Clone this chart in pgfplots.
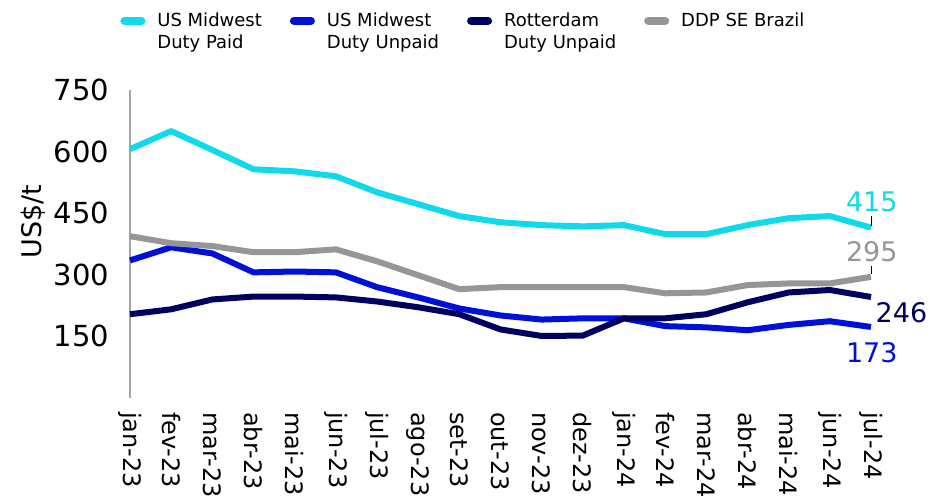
\documentclass[border=0pt]{standalone}
\usepackage{pgfplots}
\pgfplotsset{compat=1.18}
\usepackage{pgfplotstable}
\usepackage{fontspec}
\setmainfont{DejaVu Sans}
\usetikzlibrary{calc}

\definecolor{cpaid}{RGB}{15,217,234}
\definecolor{cunpaid}{RGB}{0,16,217}
\definecolor{crott}{RGB}{0,0,96}
\definecolor{cbrazil}{RGB}{150,150,150}
\definecolor{caxis}{RGB}{165,165,165}

% x: 0 = jan-23 ... 18 = jul-24
\pgfplotstableread{
x paid unpaid rott brazil
0  606 335 204 394
1  650 367 216 377
2  604 352 240 370
3  557 306 247 355
4  552 308 247 355
5  540 306 245 362
6  501 270 235 333
7  472 245 221 299
8  443 218 204 265
9  428 201 167 270
10 421 191 151 270
11 418 194 152 270
12 421 194 194 270
13 399 175 194 255
14 399 172 204 257
15 421 165 233 275
16 438 178 257 279
17 443 187 263 279
18 415 173 246 295
}\prices

\begin{document}
\begin{tikzpicture}
\begin{axis}[
    name=ax,
    scale only axis,
    width=370.5pt,
    height=154pt,
    xmin=0, xmax=18,
    ymin=0, ymax=750,
    axis x line*=bottom,
    x axis line style={draw=none},
    axis y line*=left,
    y axis line style={draw=caxis, line width=0.6pt, -},
    major tick length=0pt,
    ytick={150,300,450,600,750},
    xtick={0,...,18},
    xticklabels={jan-23,fev-23,mar-23,abr-23,mai-23,jun-23,jul-23,ago-23,set-23,out-23,nov-23,dez-23,jan-24,fev-24,mar-24,abr-24,mai-24,jun-24,jul-24},
    /pgf/number format/assume math mode=true,
    xticklabel style={font=\fontsize{12}{14}\selectfont, rotate=-90, anchor=west},
    xticklabel shift=3.5pt,
    yticklabel style={font=\fontsize{14.5}{17}\selectfont, xshift=-7pt},
    ylabel={US\$/t},
    ylabel style={font=\fontsize{13.5}{16}\selectfont, at={(axis description cs:-0.131,0.573)}, anchor=center},
    clip=false,
    every axis plot/.append style={line width=3pt, line join=round, mark=none},
    legend columns=4,
    legend cell align=left,
    legend style={draw=none, fill=none, inner sep=0pt, at={(0,1)}, anchor=north west,
        xshift=-5pt, yshift=41pt, font=\fontsize{9}{11}\selectfont,
        cells={align=left},
        /tikz/every odd column/.append style={column sep=4pt},
        /tikz/every even column/.append style={column sep=12pt}},
    legend image code/.code={\draw[line width=4pt, line cap=round] (2pt,5.5pt) -- (10.5pt,5.5pt);},
]
\addplot[color=cpaid] table[x=x, y=paid] {\prices};
\addlegendentry{US Midwest\\Duty Paid}
\addplot[color=cunpaid] table[x=x, y=unpaid] {\prices};
\addlegendentry{US Midwest\\Duty Unpaid}
\addplot[color=crott] table[x=x, y=rott] {\prices};
\addlegendentry{Rotterdam\\Duty Unpaid}
\addplot[color=cbrazil] table[x=x, y=brazil] {\prices};
\addlegendentry{DDP SE Brazil\\\mbox{}}

\draw[black, line width=0.5pt] (axis cs:18,420) -- (axis cs:18,442);
\draw[black, line width=0.5pt] (axis cs:18,302) -- (axis cs:18,322);
\node[text=cpaid, font=\fontsize{13.5}{16}\selectfont] at (axis cs:18.02,477) {415};
\node[text=cbrazil, font=\fontsize{13.5}{16}\selectfont] at (axis cs:18.02,357) {295};
\node[text=crott, font=\fontsize{13.5}{16}\selectfont] at (axis cs:18.74,208) {246};
\node[text=cunpaid, font=\fontsize{13.5}{16}\selectfont] at (axis cs:18.02,110) {173};
\end{axis}
\pgfresetboundingbox
\path[use as bounding box] ($(ax.south west)+(-65pt,-50pt)$) rectangle ($(ax.south west)+(400pt,199pt)$);
\end{tikzpicture}
\end{document}
